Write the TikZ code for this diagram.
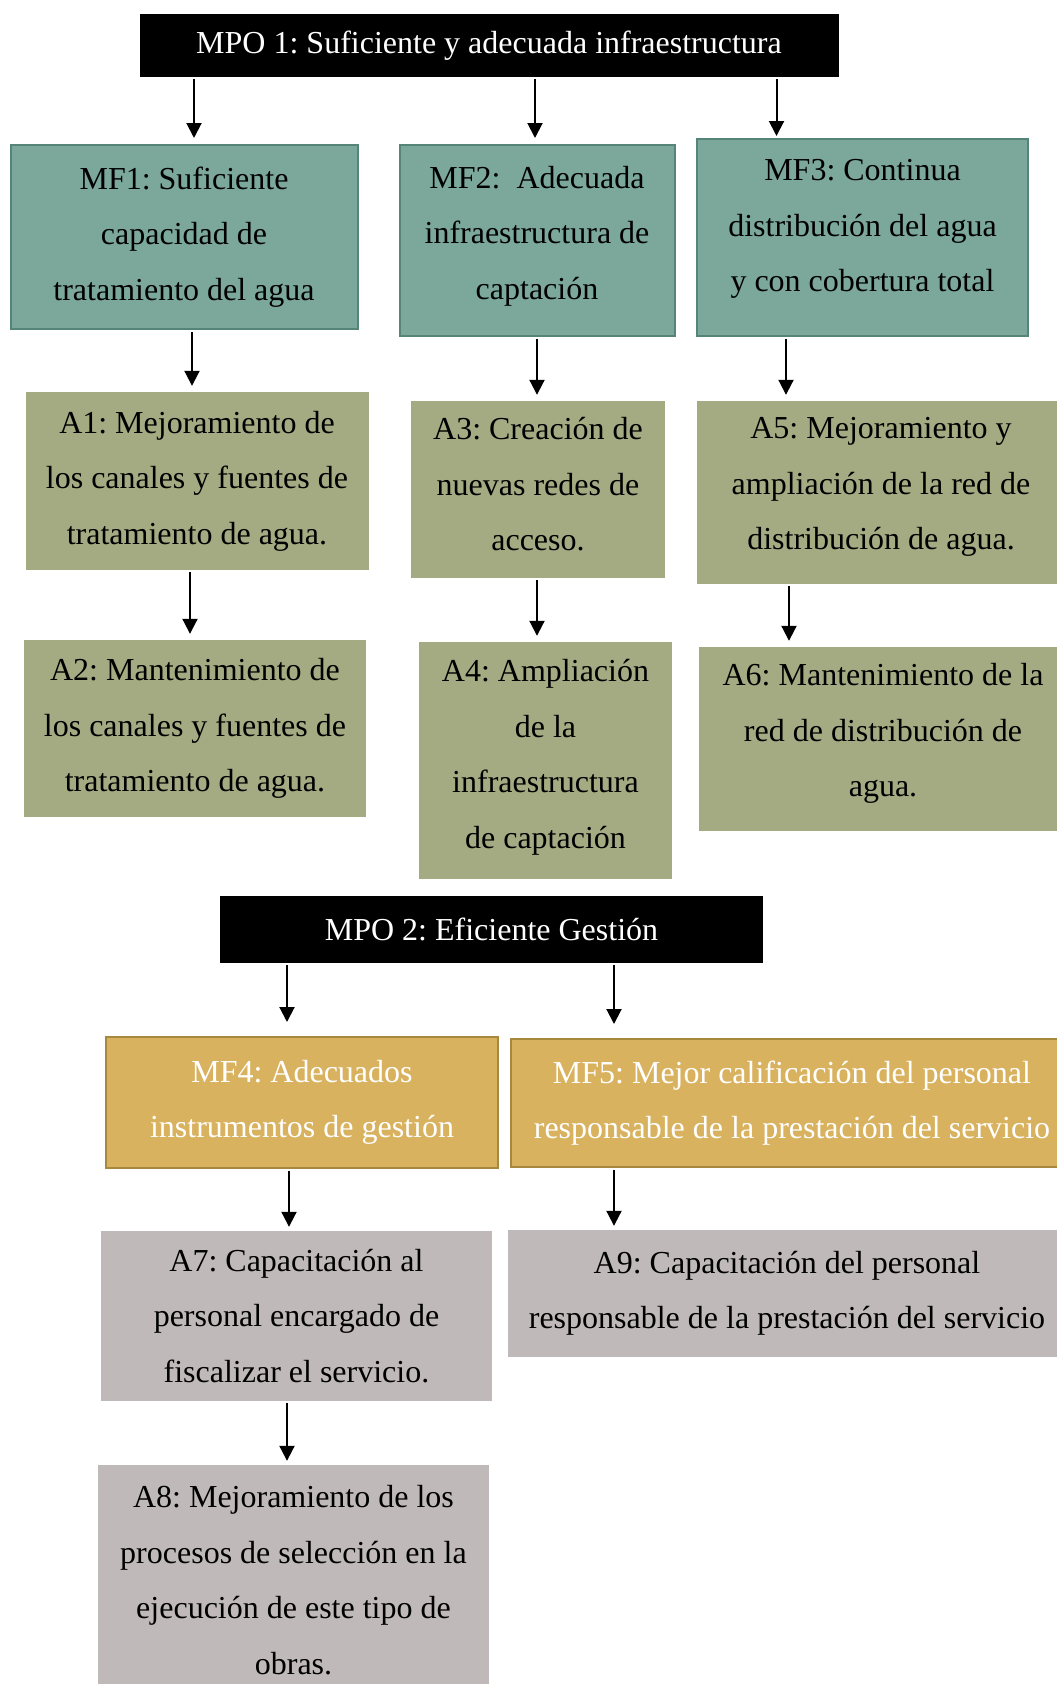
\documentclass[tikz,border=0pt]{standalone}
\usepackage{fontspec}
\setmainfont{Liberation Serif}
\frenchspacing
\usetikzlibrary{calc}
\usetikzlibrary{positioning}
\usetikzlibrary{arrows.meta}

\definecolor{verdeMF}{RGB}{123,168,155}
\definecolor{bordeMF}{RGB}{84,133,120}
\definecolor{olivaA}{RGB}{164,171,130}
\definecolor{doradoMF}{RGB}{217,178,95}
\definecolor{bordeDorado}{RGB}{166,136,63}
\definecolor{grisA}{RGB}{191,185,185}

\tikzset{
  caja/.style={rectangle,align=center,inner sep=0pt,font=\fontsize{32}{55.5}\selectfont},
  mpo/.style={caja,fill=black,text=white},
  mf/.style={caja,fill=verdeMF,draw=bordeMF,line width=2pt},
  accion/.style={caja,fill=olivaA},
  mfg/.style={caja,fill=doradoMF,draw=bordeDorado,line width=2pt,text=white},
  acciong/.style={caja,fill=grisA},
  flecha/.style={-{Triangle[width=15pt,length=15pt]},line width=2pt,shorten <=2pt,shorten >=6pt}
}

\begin{document}
\begin{tikzpicture}[x=1pt,y=-1pt]
\useasboundingbox (0,0) rectangle (1057,1684);
\clip (0,0) rectangle (1057,1684);

% MPO 1
\node[mpo,minimum width=699pt,minimum height=63pt] (mpo1) at (489,45.5) {MPO 1: Suficiente y adecuada infraestructura};

\node[mf,minimum width=347pt,minimum height=184pt] (mf1) at (184,237) {MF1: Suficiente\\capacidad de\\tratamiento del agua};
\node[mf,minimum width=275pt,minimum height=191pt,text depth=15.5pt] (mf2) at (537,240.5) {MF2:\ \ Adecuada\\infraestructura de\\captación};
\node[mf,minimum width=331pt,minimum height=197pt,text depth=24pt] (mf3) at (862.5,237.5) {MF3: Continua\\distribución del agua\\y con cobertura total};

\node[accion,minimum width=343pt,minimum height=178pt] (a1) at (197,481) {A1: Mejoramiento de\\los canales y fuentes de\\tratamiento de agua.};
\node[accion,minimum width=254pt,minimum height=177pt,text depth=11pt] (a3) at (538,489.5) {A3: Creación de\\nuevas redes de\\acceso.};
\node[accion,minimum width=368pt,minimum height=183pt,text depth=17.7pt] (a5) at (881,492.5) {A5: Mejoramiento y\\ampliación de la red de\\distribución de agua.};

\node[accion,minimum width=342pt,minimum height=177pt] (a2) at (195,728.5) {A2: Mantenimiento de\\los canales y fuentes de\\tratamiento de agua.};
\node[accion,minimum width=253pt,minimum height=237pt,text depth=13.3pt] (a4) at (545.5,760.5) {A4: Ampliación\\de la\\infraestructura\\de captación};
\node[accion,minimum width=368pt,minimum height=184pt,text depth=17.7pt] (a6) at (883,739) {A6: Mantenimiento de la\\red de distribución de\\agua.};

% MPO 2
\node[mpo,minimum width=543pt,minimum height=67pt] (mpo2) at (491.5,929.5) {MPO 2: Eficiente Gestión};

\node[mfg,minimum width=392pt,minimum height=131pt] (mf4) at (302,1102.5) {MF4: Adecuados\\instrumentos de gestión};
\node[mfg,minimum width=562pt,minimum height=128pt] (mf5) at (792,1103) {MF5: Mejor calificación del personal\\responsable de la prestación del servicio};

\node[acciong,minimum width=391pt,minimum height=170pt] (a7) at (296.5,1316) {A7: Capacitación al\\personal encargado de\\fiscalizar el servicio.};
\node[acciong,minimum width=558pt,minimum height=127pt] (a9) at (787,1293.5) {A9: Capacitación del personal\\responsable de la prestación del servicio};
\node[acciong,minimum width=391pt,minimum height=230pt] (a8) at (293.5,1580) {A8: Mejoramiento de los\\procesos de selección en la\\ejecución de este tipo de\\obras.};

% flechas
\draw[flecha] ($(mpo1.south -| mf1.north)+(10,0)$) -- ($(mf1.north)+(10,0)$);
\draw[flecha] ($(mpo1.south -| mf2.north)+(-2,0)$) -- ($(mf2.north)+(-2,0)$);
\draw[flecha,shorten >=2pt] ($(mpo1.south -| mf3.north)+(-86,0)$) -- ($(mf3.north)+(-86,0)$);

\draw[flecha] ($(mf1.south -| a1.north)+(-5,0)$) -- ($(a1.north)+(-5,0)$);
\draw[flecha] ($(mf2.south -| a3.north)+(-1,0)$) -- ($(a3.north)+(-1,0)$);
\draw[flecha] ($(mf3.south -| a5.north)+(-95,0)$) -- ($(a5.north)+(-95,0)$);

\draw[flecha] ($(a1.south -| a2.north)+(-5,0)$) -- ($(a2.north)+(-5,0)$);
\draw[flecha] ($(a3.south -| a4.north)+(-8.5,0)$) -- ($(a4.north)+(-8.5,0)$);
\draw[flecha] ($(a5.south -| a6.north)+(-94,0)$) -- ($(a6.north)+(-94,0)$);

\draw[flecha,shorten >=14pt] ($(mpo2.south -| mf4.north)+(-15,0)$) -- ($(mf4.north)+(-15,0)$);
\draw[flecha,shorten >=14pt] ($(mpo2.south -| mf5.north)+(-178,0)$) -- ($(mf5.north)+(-178,0)$);

\draw[flecha,shorten >=4pt] ($(mf4.south -| a7.north)+(-7.5,0)$) -- ($(a7.north)+(-7.5,0)$);
\draw[flecha,shorten >=4pt] ($(mf5.south -| a9.north)+(-173,0)$) -- ($(a9.north)+(-173,0)$);
\draw[flecha,shorten >=4pt] ($(a7.south -| a8.north)+(-6.5,0)$) -- ($(a8.north)+(-6.5,0)$);
\end{tikzpicture}
\end{document}
